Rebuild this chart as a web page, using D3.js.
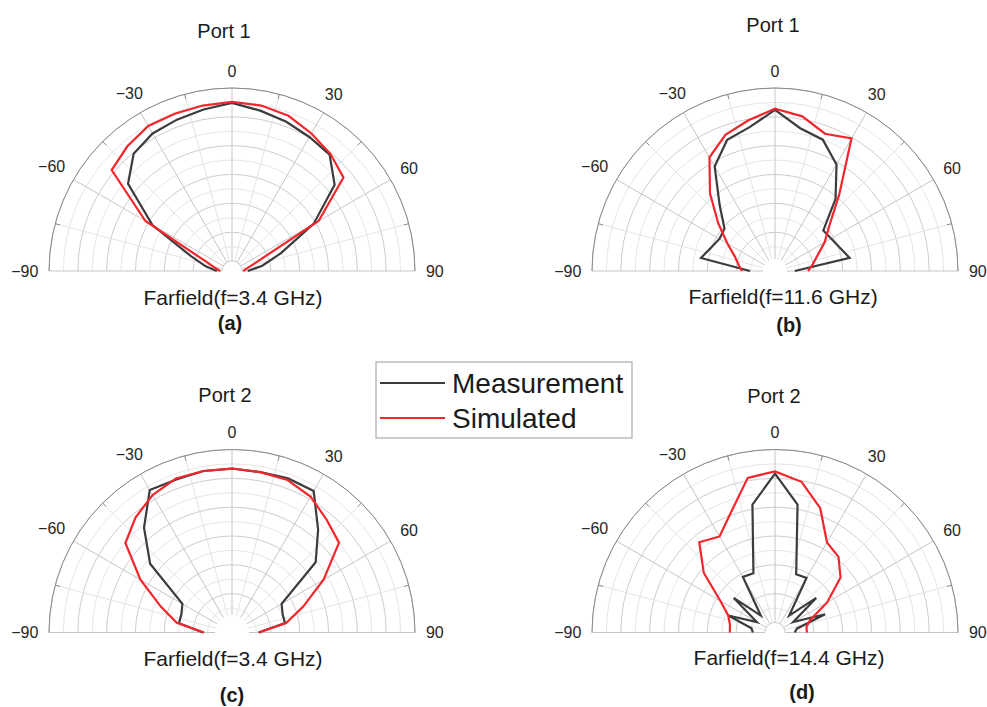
<!DOCTYPE html>
<html>
<head>
<meta charset="utf-8">
<script src="https://cdn.jsdelivr.net/npm/d3@7"></script>
<style>
  body { margin: 0; background: #fff; }
  svg { display: block; }
</style>
</head>
<body>
<script>
// Elevation angle (degrees) of each sample
const angles = [-90, -80, -70, -60, -50, -40, -30, -20, -10, 0, 10, 20, 30, 40, 50, 60, 70, 80, 90];

// Normalised gain (dB) per angle
const measA = [-29.1, -27.1, -24.1, -15.8, -8.2, -5.2, -4.2, -3.8, -3.3, -2.6, -3.5, -4.2, -4.9, -5.4, -8.5, -15.4, -22.7, -26.4, -29.0];
const simA  = [-29.7, -28.8, -26.9, -14.4, -4.5, -3.5, -2.7, -2.7, -2.6, -2.4, -2.6, -3.1, -4.2, -5.2, -6.5, -14.4, -27.2, -29.1, -29.8];

const measB = [-27.4, -18.7, -19.9, -20.6, -20.3, -16.8, -10.8, -7.5, -6.4, -3.8, -6.6, -7.5, -10.4, -15.4, -20.8, -20.5, -19.8, -18.6, -28.3];
const simB  = [-26.0, -25.3, -24.3, -22.2, -18.9, -14.2, -9.0, -6.6, -5.2, -3.6, -4.5, -6.4, -5.2, -14.4, -19.4, -21.8, -23.9, -25.1, -26.0];

const measC = [-26.7, -22.4, -22.4, -21.8, -13.2, -8.0, -3.2, -3.5, -3.3, -3.3, -3.5, -3.3, -3.4, -8.5, -12.8, -21.8, -22.4, -22.4, -27.1];
const simC  = [-26.9, -22.0, -18.6, -13.4, -7.6, -5.7, -4.2, -3.3, -3.3, -3.3, -3.5, -3.6, -4.5, -6.2, -7.5, -13.4, -18.6, -22.2, -27.1];

const measD = [-27.9, -27.6, -23.1, -28.1, -22.4, -27.9, -20.6, -20.8, -9.2, -4.2, -9.2, -21.0, -20.8, -27.9, -22.4, -28.1, -22.5, -27.9, -28.3];
const simD  = [-23.9, -23.8, -23.1, -20.8, -15.6, -11.3, -12.5, -9.5, -4.5, -3.8, -5.2, -8.8, -13.7, -14.6, -16.9, -21.3, -25.2, -26.2, -26.2];

// Angular tick labels
const thetaTicks = [-90, -60, -30, 0, 30, 60, 90];
const thetaLabels = ["\u221290", "\u221260", "\u221230", "0", "30", "60", "90"];

const seriesNames = ["Measurement", "Simulated"];
const seriesColors = ["#3c3c3c", "#f2262c"];

const W = 987, H = 707;
const R = 183, R0 = 10;
const FONT = "'Liberation Sans', Arial, Helvetica, sans-serif";

const svg = d3.select("body").append("svg")
  .attr("width", W).attr("height", H)
  .attr("viewBox", `0 0 ${W} ${H}`);

const rScale = d3.scaleLinear().domain([-30, 0]).range([R0, R]).clamp(true);
const rings = d3.range(-30, 0.01, 2.5);

const panels = [
  { cx: 232, cy: 271,   hole: 10, title: "Port 1", caption: "Farfield(f=3.4 GHz)",  tag: "(a)",
    meas: measA, sim: simA, tdx: -8, tdy: -240, cdx: 1,  cdy: 27,   gdx: -2, gdy: 52 },
  { cx: 775, cy: 271,   hole: 12, title: "Port 1", caption: "Farfield(f=11.6 GHz)", tag: "(b)",
    meas: measB, sim: simB, tdx: -2, tdy: -246, cdx: 8,  cdy: 26,   gdx: 14, gdy: 54 },
  { cx: 232, cy: 632.5, hole: 17, title: "Port 2", caption: "Farfield(f=3.4 GHz)",  tag: "(c)",
    meas: measC, sim: simC, tdx: -7, tdy: -238, cdx: 1,  cdy: 26.5, gdx: 0,  gdy: 62.5 },
  { cx: 775, cy: 632.5, hole: 10, title: "Port 2", caption: "Farfield(f=14.4 GHz)", tag: "(d)",
    meas: measD, sim: simD, tdx: -1, tdy: -237, cdx: 14, cdy: 25.5, gdx: 27, gdy: 59 }
];

const rad = d => d * Math.PI / 180;
const semi = r => `M${-r},0A${r},${r} 0 0 1 ${r},0`;

const line = d3.lineRadial()
  .angle(d => rad(d.a))
  .radius(d => rScale(d.v));

panels.forEach(p => {
  const g = svg.append("g").attr("transform", `translate(${p.cx},${p.cy})`);

  // concentric rings
  g.append("g").selectAll("path")
    .data(rings.filter(v => rScale(v) >= p.hole))
    .join("path")
    .attr("d", v => semi(rScale(v)))
    .attr("fill", "none")
    .attr("stroke", (v, i) => (Math.round(v * 2) % 10 === 0) ? "#cdcdcd" : "#e6e6e6")
    .attr("stroke-width", 1);

  // radial spokes every 15 degrees
  g.append("g").selectAll("line")
    .data(d3.range(-90, 91, 15))
    .join("line")
    .attr("x1", a => p.hole * Math.sin(rad(a)))
    .attr("y1", a => -p.hole * Math.cos(rad(a)))
    .attr("x2", a => R * Math.sin(rad(a)))
    .attr("y2", a => -R * Math.cos(rad(a)))
    .attr("stroke", a => a % 30 === 0 ? "#c6c6c6" : "#e4e4e4")
    .attr("stroke-width", 1);

  // outer boundary and small angle ticks
  g.append("path").attr("d", semi(R))
    .attr("fill", "none").attr("stroke", "#8a8a8a").attr("stroke-width", 1);
  g.append("g").selectAll("line")
    .data(d3.range(-75, 76, 30))
    .join("line")
    .attr("x1", a => (R - 5) * Math.sin(rad(a)))
    .attr("y1", a => -(R - 5) * Math.cos(rad(a)))
    .attr("x2", a => R * Math.sin(rad(a)))
    .attr("y2", a => -R * Math.cos(rad(a)))
    .attr("stroke", "#8a8a8a").attr("stroke-width", 1);

  // angle labels
  const fs = 16;
  g.append("g").selectAll("text")
    .data(thetaTicks)
    .join("text")
    .each(function (a, i) {
      const txt = thetaLabels[i];
      const hw = txt.length * 0.55 * fs / 2;
      const hh = 0.36 * fs;
      const s = Math.abs(Math.sin(rad(a))), c = Math.abs(Math.cos(rad(a)));
      const rl = R + 11 + hw * s + hh * c;
      d3.select(this)
        .attr("x", rl * Math.sin(rad(a)))
        .attr("y", -rl * Math.cos(rad(a)))
        .attr("dy", "0.35em")
        .attr("text-anchor", "middle")
        .attr("font-family", FONT)
        .attr("font-size", fs)
        .attr("fill", "#262626")
        .text(txt);
    });

  // pattern curves
  [p.meas, p.sim].forEach((vals, k) => {
    const pts = angles.map((a, i) => ({ a, v: vals[i] }));
    g.append("path")
      .attr("d", line(pts))
      .attr("fill", "none")
      .attr("stroke", seriesColors[k])
      .attr("stroke-width", 2.2)
      .attr("stroke-linejoin", "miter");
  });

  // title, caption, sub-figure tag
  g.append("text").attr("x", p.tdx).attr("y", p.tdy).attr("dy", "0.35em")
    .attr("text-anchor", "middle").attr("font-family", FONT).attr("font-size", 20)
    .attr("fill", "#1a1a1a").text(p.title);
  g.append("text").attr("x", p.cdx).attr("y", p.cdy).attr("dy", "0.35em")
    .attr("text-anchor", "middle").attr("font-family", FONT).attr("font-size", 21)
    .attr("fill", "#1a1a1a").text(p.caption);
  g.append("text").attr("x", p.gdx).attr("y", p.gdy).attr("dy", "0.35em")
    .attr("text-anchor", "middle").attr("font-family", FONT).attr("font-size", 20)
    .attr("font-weight", "bold").attr("fill", "#1a1a1a").text(p.tag);
});

// legend
const lg = svg.append("g").attr("transform", "translate(376,362)");
lg.append("rect").attr("width", 256).attr("height", 76)
  .attr("fill", "#fff").attr("stroke", "#9a9a9a").attr("stroke-width", 1);
seriesNames.forEach((name, i) => {
  const y = 21 + i * 35;
  lg.append("line").attr("x1", 4).attr("x2", 69).attr("y1", y).attr("y2", y)
    .attr("stroke", seriesColors[i]).attr("stroke-width", 2.2);
  lg.append("text").attr("x", 76).attr("y", y).attr("dy", "0.35em")
    .attr("font-family", FONT).attr("font-size", 28).attr("fill", "#1a1a1a")
    .text(name);
});
</script>
</body>
</html>
